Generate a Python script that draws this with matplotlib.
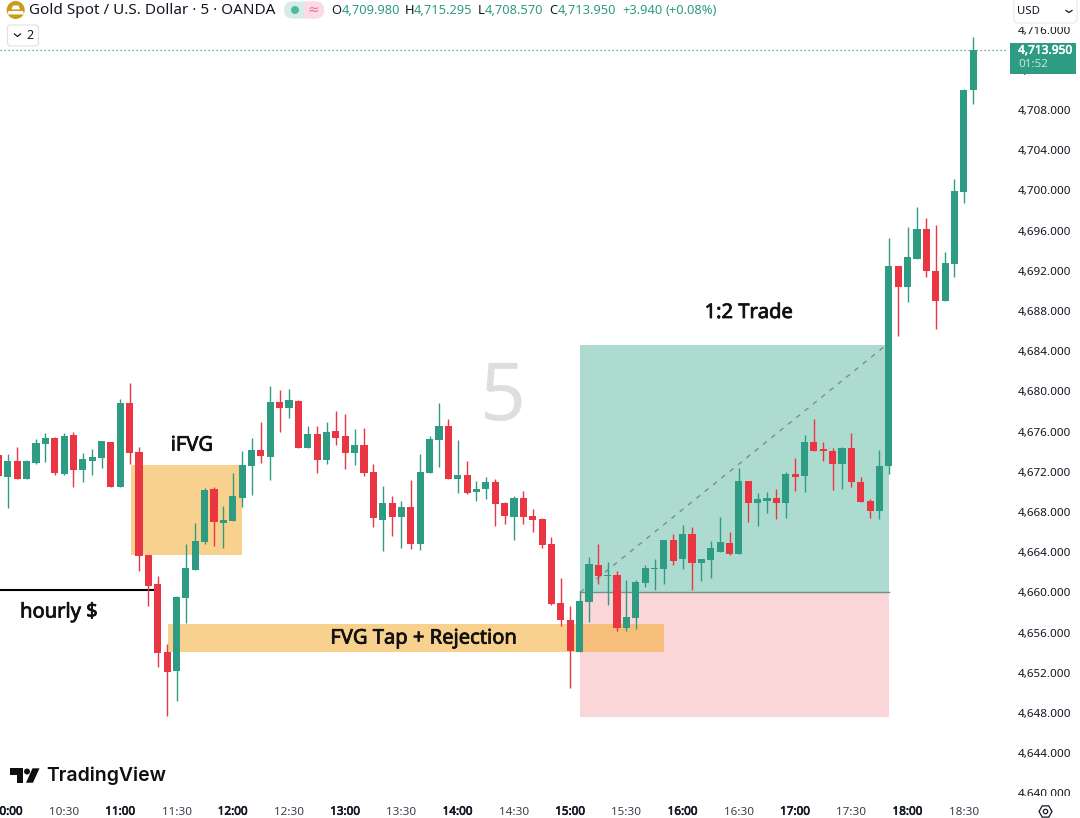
import matplotlib
matplotlib.use('Agg')
import matplotlib.pyplot as plt
import matplotlib.patches as mpatches
import matplotlib.patheffects as pe
import numpy as np
from matplotlib.ticker import FuncFormatter

plt.rcParams['font.family'] = ['Noto Sans', 'DejaVu Sans']

# 5 minute candles, first one closes just before 10:00
opens = [4673.7, 4671.5, 4673.1, 4671.3, 4672.9, 4674.8, 4675.4, 4671.8, 4675.7, 4672.2, 4673.1, 4673.4, 4675.0,
         4670.5, 4678.8, 4674.0, 4663.7, 4660.8, 4654.1, 4652.2, 4659.4, 4662.2, 4665.0, 4670.3, 4666.9, 4667.1,
         4669.4, 4672.6, 4674.2, 4673.5, 4678.9, 4678.3, 4679.0, 4674.4, 4675.8, 4673.2, 4676.1, 4675.6, 4673.9,
         4674.7, 4672.0, 4667.2, 4668.9, 4667.5, 4668.5, 4664.8, 4671.9, 4675.2, 4676.6, 4671.3, 4671.7, 4670.0,
         4670.3, 4671.0, 4668.9, 4667.5, 4669.4, 4667.6, 4667.3, 4664.8, 4658.9, 4657.3, 4654.1, 4659.0, 4662.7,
         4661.6, 4661.7, 4656.5, 4657.5, 4660.9, 4662.3, 4662.3, 4665.2, 4663.3, 4665.8, 4662.9, 4663.2, 4664.0,
         4664.9, 4663.8, 4671.1, 4668.9, 4669.1, 4669.4, 4668.9, 4671.8, 4671.6, 4675.0, 4674.2, 4674.1, 4672.8,
         4674.4, 4671.0, 4669.1, 4668.1, 4672.6, 4692.5, 4690.4, 4693.2, 4696.2, 4692.0, 4689.0, 4692.7, 4699.8,
         4709.98]
highs = [4674.2, 4673.8, 4674.5, 4673.2, 4675.3, 4675.9, 4675.5, 4675.9, 4676.0, 4673.9, 4674.3, 4675.1, 4675.0,
         4679.2, 4680.8, 4674.5, 4663.7, 4661.6, 4654.9, 4659.6, 4664.8, 4666.9, 4670.4, 4670.5, 4668.6, 4671.9,
         4674.1, 4675.4, 4677.0, 4680.5, 4680.1, 4680.2, 4679.1, 4676.6, 4676.6, 4677.0, 4678.0, 4677.8, 4676.3,
         4676.4, 4672.8, 4670.6, 4669.6, 4669.1, 4671.2, 4673.8, 4675.6, 4678.8, 4677.3, 4675.2, 4673.1, 4671.1,
         4671.5, 4671.3, 4669.0, 4669.6, 4670.1, 4668.3, 4667.4, 4665.5, 4661.4, 4658.6, 4660.0, 4663.5, 4664.8,
         4663.0, 4662.1, 4661.2, 4661.2, 4662.7, 4663.3, 4665.2, 4665.8, 4666.7, 4666.5, 4663.3, 4665.1, 4667.5,
         4666.0, 4672.4, 4671.1, 4669.9, 4670.0, 4670.3, 4672.0, 4673.4, 4675.7, 4677.3, 4675.0, 4674.4, 4674.5,
         4675.9, 4671.5, 4669.3, 4674.2, 4695.3, 4692.5, 4696.4, 4698.3, 4697.3, 4696.6, 4693.9, 4701.1, 4710.1,
         4715.295]
lows = [4671.4, 4668.4, 4671.3, 4671.3, 4672.8, 4673.0, 4671.7, 4671.7, 4670.5, 4671.0, 4671.7, 4672.4, 4670.5,
        4670.5, 4672.8, 4662.1, 4658.6, 4652.6, 4647.7, 4649.2, 4657.0, 4662.2, 4664.8, 4664.6, 4664.4, 4667.1,
        4668.5, 4669.7, 4672.9, 4671.2, 4676.0, 4677.4, 4674.4, 4674.4, 4671.9, 4672.8, 4674.7, 4672.3, 4672.7,
        4671.6, 4666.5, 4664.1, 4665.6, 4664.4, 4664.3, 4664.2, 4671.9, 4672.5, 4671.3, 4669.9, 4669.8, 4669.1,
        4669.3, 4666.6, 4666.8, 4665.2, 4666.8, 4666.0, 4664.4, 4658.7, 4656.7, 4650.5, 4654.1, 4657.1, 4660.8,
        4658.7, 4656.2, 4656.2, 4656.4, 4660.5, 4660.2, 4660.8, 4662.7, 4662.3, 4660.2, 4661.1, 4661.4, 4664.0,
        4663.7, 4663.8, 4667.0, 4666.6, 4667.9, 4667.3, 4667.4, 4670.1, 4670.0, 4674.1, 4673.1, 4670.2, 4670.3,
        4670.5, 4669.0, 4667.4, 4667.3, 4671.8, 4685.5, 4688.9, 4693.2, 4691.4, 4686.2, 4689.0, 4691.4, 4698.7,
        4708.57]
closes = [4671.6, 4673.1, 4671.3, 4673.1, 4674.9, 4675.4, 4671.9, 4675.6, 4672.2, 4673.3, 4673.5, 4675.1, 4670.5,
          4678.8, 4673.9, 4663.6, 4660.6, 4654.0, 4652.1, 4659.5, 4662.4, 4665.1, 4670.2, 4667.0, 4667.2, 4669.6,
          4672.7, 4674.2, 4673.6, 4678.9, 4678.3, 4679.1, 4674.4, 4675.8, 4673.2, 4676.0, 4675.4, 4673.9, 4674.7,
          4671.9, 4667.4, 4668.9, 4667.5, 4668.5, 4664.8, 4672.0, 4675.3, 4676.6, 4671.3, 4671.7, 4669.9, 4670.3,
          4671.0, 4668.8, 4667.6, 4669.4, 4667.5, 4667.2, 4664.7, 4658.8, 4657.3, 4654.2, 4659.1, 4662.8, 4661.6,
          4661.7, 4656.5, 4657.6, 4661.0, 4662.4, 4662.4, 4665.2, 4663.1, 4665.8, 4662.9, 4663.3, 4664.4, 4665.0,
          4663.8, 4671.1, 4668.9, 4669.3, 4669.4, 4668.9, 4671.8, 4671.5, 4675.0, 4674.1, 4674.1, 4672.8, 4674.4,
          4671.0, 4669.0, 4668.1, 4672.6, 4692.5, 4690.4, 4693.4, 4696.2, 4692.0, 4689.0, 4692.8, 4699.9, 4710.0,
          4713.95]

price_ticks = [4640, 4644, 4648, 4652, 4656, 4660, 4664, 4668, 4672, 4676, 4680, 4684, 4688, 4692, 4696, 4700,
               4704, 4708, 4712, 4716]
time_labels = ['10:00', '10:30', '11:00', '11:30', '12:00', '12:30', '13:00', '13:30', '14:00', '14:30', '15:00',
               '15:30', '16:00', '16:30', '17:00', '17:30', '18:00', '18:30']

# zones as (left bar, right bar, low price, high price)
ifvg_zone = (14.14, 25.98, 4663.7, 4672.7)
tap_zone = (18.09, 71.0, 4654.1, 4656.9)
trade_start, trade_end = 62.04, 95.0
trade_entry, trade_target, trade_stop = 4660.0, 4684.6, 4647.6
hourly_level = 4660.2

GREEN = '#2e9c82'
RED = '#ea3643'
INK = '#131722'


def thick(width, color):
    # the installed Noto Sans has no heavy cut, so thicken the outline
    return [pe.withStroke(linewidth=width, foreground=color)]


fig = plt.figure(figsize=(10.8, 8.18), dpi=100, facecolor='white')
ax = fig.add_axes([0, 1 - 796 / 818, 1008 / 1080, 796 / 818])
ax.set_xlim(0.165, 107.71)
ax.set_ylim(4639.74, 4718.945)
for side in ax.spines.values():
    side.set_visible(False)

# trade and fvg boxes sit under the candles
ax.add_patch(mpatches.Rectangle((trade_start, trade_entry), trade_end - trade_start, trade_target - trade_entry,
                                fc='#aedbd0', ec='none', zorder=1))
ax.add_patch(mpatches.Rectangle((trade_start, trade_stop), trade_end - trade_start, trade_entry - trade_stop,
                                fc='#fad6d9', ec='none', zorder=1))
ax.plot([trade_start, trade_end], [trade_entry, trade_entry], color='#72918b', lw=1, zorder=1.5)
for zone in (ifvg_zone, tap_zone):
    ax.add_patch(mpatches.Rectangle((zone[0], zone[2]), zone[1] - zone[0], zone[3] - zone[2],
                                    fc='#f5a51f', alpha=0.5, ec='none', zorder=1.6))
ax.plot([trade_start, trade_end - 0.3], [trade_entry, trade_target], color='#7d8f8b', lw=1,
        linestyle=(0, (3.5, 4.2)), zorder=1.7)
ax.axhline(closes[-1], color=GREEN, lw=0.9, linestyle=(0, (1, 2.2)), zorder=1.8)
ax.plot([0.165, 16.7], [hourly_level, hourly_level], color='black', lw=1.5, zorder=1.8)

pos = np.arange(len(opens))
o = np.array(opens)
c = np.array(closes)
colors = [GREEN if up else RED for up in c >= o]
ax.vlines(pos, lows, highs, colors=colors, lw=1, zorder=2)
ax.bar(pos, np.maximum(np.abs(c - o), 0.12), bottom=np.minimum(o, c), width=0.76, color=colors, zorder=2.1)

ax.yaxis.tick_right()
ax.set_yticks(price_ticks)
ax.yaxis.set_major_formatter(FuncFormatter(lambda v, _: f'{v:,.3f}'))
ax.set_xticks(np.arange(len(time_labels)) * 6 + 1)
ax.set_xticklabels(time_labels)
ax.tick_params(axis='both', length=0, labelsize=8.4, labelcolor=INK)
ax.tick_params(axis='y', pad=7)
ax.tick_params(axis='x', pad=7.7)
for lab, text in zip(ax.get_xticklabels(), time_labels):
    if text.endswith(':00'):
        lab.set_path_effects(thick(0.45, INK))
    else:
        lab.set_color('#3b3f4a')

ax.text(53.83, 4679.2, '5', fontsize=58, color='#dcdee0', ha='center', va='center', zorder=0.5)
note_style = dict(fontsize=14.5, color='#111111', ha='center', va='center', zorder=3,
                  path_effects=thick(0.55, '#111111'))
ax.text(20.65, 4674.6, 'iFVG', **note_style)
ax.text(6.46, 4658.0, 'hourly $', **note_style)
ax.text(45.4, 4655.4, 'FVG Tap + Rejection', **note_style)
ax.text(80.06, 4687.8, '1:2 Trade', **note_style)

# header, price tag and buttons, laid out in pixels on top of the chart
ov = fig.add_axes([0, 0, 1, 1])
ov.set_xlim(0, 1080)
ov.set_ylim(818, 0)
ov.axis('off')
ov.patch.set_visible(False)

# hide what is left of the labels near the top and bottom of the price scale
ov.add_patch(mpatches.Rectangle((1010, 796), 70, 22, fc='white', ec='none'))
ov.add_patch(mpatches.Rectangle((1010, 0), 70, 27, fc='white', ec='none'))
ov.add_patch(mpatches.FancyBboxPatch((1014, -4), 63, 27, boxstyle='round,pad=0,rounding_size=4', fc='white',
                                     ec='#e6e8ec', lw=0.8))
ov.text(1017, 11.5, 'USD', fontsize=8.2, color=INK, va='center')
ov.plot([1066, 1069, 1072], [10.5, 12.5, 10.5], color=INK, lw=0.9)

# price tag follows the last close
tag_y = 818 - ax.transData.transform((0, closes[-1]))[1]
ov.add_patch(mpatches.Rectangle((1010, tag_y - 7), 66, 30.5, fc=GREEN, ec='none'))
ov.text(1018, tag_y, f'{closes[-1]:,.3f}', fontsize=8.6, color='white', va='center', path_effects=thick(0.4, 'white'))
ov.text(1018, tag_y + 14, '01:52', fontsize=8.4, color='#c6e6de', va='center')

# symbol icon
ov.add_patch(mpatches.Circle((15.7, 10), 9, fc='#c99a1c', ec='none'))
ov.add_patch(mpatches.Polygon([(13, 5.5), (18.5, 5.5), (20, 9.5), (11.5, 9.5)], fc='white', ec='none'))
ov.add_patch(mpatches.Polygon([(8.5, 11), (23, 11), (24, 14.5), (7.5, 14.5)], fc='white', ec='none'))

ov.text(29, 10.5, 'Gold Spot / U.S. Dollar · 5 · OANDA', fontsize=11, color=INK, va='center')

pill = mpatches.FancyBboxPatch((284, 1.5), 40, 17, boxstyle='round,pad=0,rounding_size=8.5', fc='#d6ede7', ec='none')
ov.add_patch(pill)
half = mpatches.Rectangle((304, 0), 21, 20, fc='#fbdbe4', ec='none')
ov.add_patch(half)
half.set_clip_path(pill)
ov.add_patch(mpatches.Circle((295, 10), 4, fc='#4fb9a0', ec='none'))
ov.text(313, 10, '≈', fontsize=10, color='#ef6f9a', ha='center', va='center', family=['DejaVu Sans'])

# ohlc readout
readout = [(331.7, 341.7, 'O', f'{opens[-1]:,.3f}'), (405, 414, 'H', f'{highs[-1]:,.3f}'),
           (478, 485, 'L', f'{lows[-1]:,.3f}'), (549, 558, 'C', f'{closes[-1]:,.3f}')]
for name_x, value_x, name, value in readout:
    ov.text(name_x, 10.5, name, fontsize=9.3, color=INK, va='center')
    ov.text(value_x, 10.5, value, fontsize=9.3, color=GREEN, va='center')
ov.text(622, 10.5, '+3.940', fontsize=9.3, color=GREEN, va='center')
ov.text(665, 10.5, '(+0.08%)', fontsize=9.3, color=GREEN, va='center')

# collapsed indicators button
ov.add_patch(mpatches.FancyBboxPatch((7.5, 25), 31, 21, boxstyle='round,pad=0,rounding_size=3', fc='white',
                                     ec='#dfe1e5', lw=0.8))
ov.plot([14.5, 17.5, 20.5], [34, 36.5, 34], color=INK, lw=0.9)
ov.text(30, 35.5, '2', fontsize=9, color=INK, ha='center', va='center')

# watermark logo
ov.add_patch(mpatches.Polygon([(10, 768.3), (22.7, 768.3), (22.7, 782.7), (16.7, 782.7), (16.7, 775), (10, 775)],
                              fc='#0f0f0f', ec='none'))
ov.add_patch(mpatches.Circle((27, 771.5), 3, fc='#0f0f0f', ec='none'))
ov.add_patch(mpatches.Polygon([(39.5, 768.3), (32.5, 768.3), (26, 782.7), (33, 782.7)], fc='#0f0f0f', ec='none'))
ov.text(46.5, 776, 'TradingView', fontsize=14, fontweight='semibold', color='#0f0f0f', va='center', family=['Inter'])

# settings button
ov.add_patch(mpatches.RegularPolygon((1045.5, 811.5), 6, radius=6.5, orientation=np.pi / 2, fc='white', ec=INK, lw=0.9))
ov.add_patch(mpatches.Circle((1045.5, 811.5), 2.2, fc='white', ec=INK, lw=0.9))

fig.savefig('out.png', dpi=100)
